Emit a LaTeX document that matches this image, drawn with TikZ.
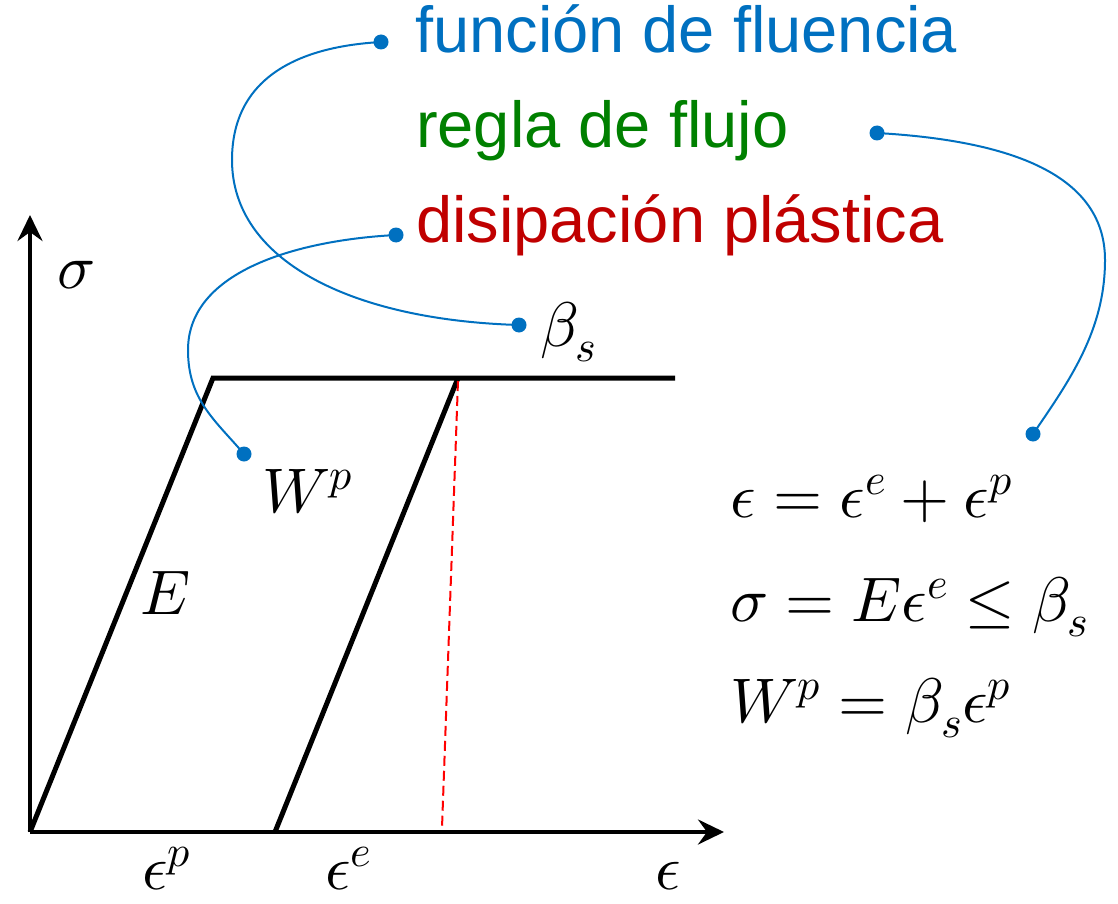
\documentclass[tikz,border=0pt]{standalone}
\usepackage{fontspec}
\usepackage{unicode-math}
\setmainfont{Liberation Sans}
\setmathfont{Latin Modern Math}
\usetikzlibrary{arrows.meta}
\definecolor{cblue}{HTML}{0070C0}
\definecolor{cgreen}{HTML}{008000}
\definecolor{cred}{HTML}{C00000}
\tikzset{
  axis/.style={line width=4pt,-{Stealth[length=26pt,width=25pt,inset=9pt]}},
  curveline/.style={line width=5pt,line join=miter},
  callout/.style={draw=cblue,line width=2pt},
  dot/.style={fill=cblue},
  lbl/.style={inner sep=0pt,anchor=base west,font=\fontsize{65}{78}\selectfont},
  mth/.style={inner sep=0pt,anchor=base west,font=\fontsize{63}{75}\selectfont},
  yieldline/.style={draw=red,line width=2pt,dash pattern=on 10pt off 5pt}
}
\begin{document}
\begin{tikzpicture}[x=1pt,y=-1pt]
\useasboundingbox (0,0) rectangle (1118,904);
% graph points
\coordinate (O) at (30,832);
\coordinate (A) at (213,378);
\coordinate (B) at (458,378);
\coordinate (C) at (675,378);
\coordinate (D) at (275,832);
\coordinate (Xend) at (724,832);
\coordinate (Yend) at (30,215);
\coordinate (R1) at (458,381);
\coordinate (R2) at (442,828);
% axes
\draw[axis] (O) -- (Xend);
\draw[axis] (O) -- (Yend);
% stress-strain
\draw[curveline] (O) -- (A) -- (C);
\draw[curveline] (D) -- (B);
\draw[yieldline] (R1) -- (R2);
% labels on graph
\node[mth] (sig) at (57,288) {$\sigma$};
\node[mth] (E) at (140,614) {$E$};
\node[mth] (Wp) at (262,512) {$W^{p}$};
\node[mth] (ep) at (142,889) {$\epsilon^{p}$};
\node[mth] (ee) at (325,889) {$\epsilon^{e}$};
\node[mth] (eps) at (655,889) {$\epsilon$};
\node[mth] (bs) at (540,346) {$\beta_{s}$};
% equations
\node[mth] (eq1) at (730,517) {$\epsilon=\epsilon^{e}+\epsilon^{p}$};
\node[mth] (eq2) at (730,621) {$\sigma=E\epsilon^{e}\leq\beta_{s}$};
\node[mth] (eq3) at (730,722) {$W^{p}=\beta_{s}\epsilon^{p}$};
% texts
\node[lbl,text=cblue] (t1) at (415,53) {función de fluencia};
\node[lbl,text=cgreen] (t2) at (416,148) {regla de flujo};
\node[lbl,text=cred] (t3) at (416,242) {disipación plástica};
% callout dots
\coordinate (d1) at (381,42);
\coordinate (d2) at (877,133);
\coordinate (d3) at (396,235);
\coordinate (d4) at (519,325);
\coordinate (d5) at (244,454);
\coordinate (d6) at (1033,434);
\draw[callout] (d4) .. controls (350,320) and (232,260) .. (232,160)
  .. controls (232,60) and (330,45) .. (d1);
\draw[callout] (d3) .. controls (300,240) and (188,270) .. (188,350)
  .. controls (188,400) and (215,420) .. (d5);
\draw[callout] (d2) .. controls (1000,140) and (1105,170) .. (1105,260)
  .. controls (1105,330) and (1070,380) .. (d6);
\foreach \d in {d1,d2,d3,d4,d5,d6} \fill[dot] (\d) circle (7.5pt);
\end{tikzpicture}
\end{document}
